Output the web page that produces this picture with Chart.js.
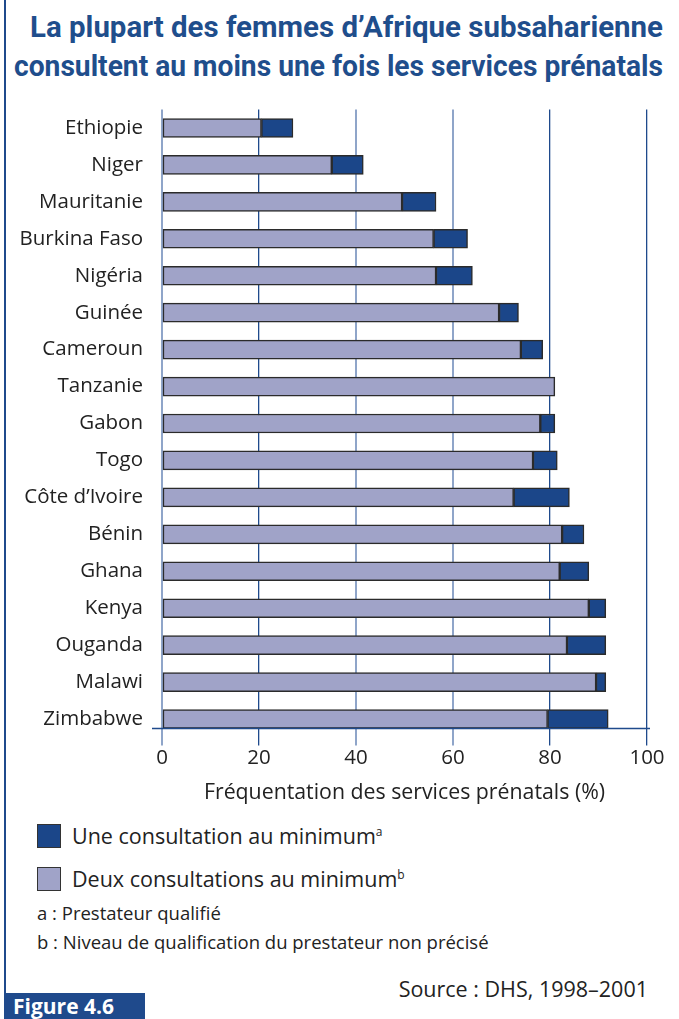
<!DOCTYPE html>
<html>
<head>
<meta charset="utf-8">
<script src="https://cdn.jsdelivr.net/npm/chart.js@4"></script>
<style>
  body { margin: 0; width: 679px; height: 1019px; position: relative; background: #fff; font-family: "Open Sans", sans-serif; color: #222; overflow: hidden; }
  #bord { position: absolute; left: 4px; top: 0; width: 2px; height: 995px; background: #1f4a8c; }
  .titre { position: absolute; white-space: nowrap; font-family: "Roboto", sans-serif; font-weight: bold; font-size: 30px; line-height: 36px; color: #1f4e8c; transform-origin: 0 0; }
  #graph { position: absolute; left: 0; top: 0; }
  .leg { position: absolute; left: 37px; font-size: 21.5px; white-space: nowrap; }
  .leg span.carre { display: inline-block; width: 22px; height: 22px; border: 1px solid #333; vertical-align: -4px; margin-right: 11px; }
  .leg sup { font-size: 12px; }
  .note { position: absolute; left: 37px; font-size: 18.5px; white-space: nowrap; }
  #source { position: absolute; right: 31px; top: 974px; font-size: 21.5px; }
  #fig { position: absolute; left: 4px; top: 993px; width: 141px; height: 26px; background: #1f4a8c; color: #fff; font-weight: bold; font-size: 21px; line-height: 26px; padding-left: 9px; box-sizing: border-box; }
</style>
</head>
<body>
<div id="bord"></div>
<div class="titre" id="t1" data-g="30" data-l="633" style="top:9px">La plupart des femmes d’Afrique subsaharienne</div>
<div class="titre" id="t2" data-g="14" data-l="649" style="top:48px">consultent au moins une fois les services prénatals</div>
<canvas id="graph" width="679" height="810"></canvas>
<div class="leg" style="top:821px"><span class="carre" style="background:#1b4689"></span>Une consultation au minimum<sup>a</sup></div>
<div class="leg" style="top:864px"><span class="carre" style="background:#a0a3c8"></span>Deux consultations au minimum<sup>b</sup></div>
<div class="note" style="top:900px">a : Prestateur qualifié</div>
<div class="note" style="top:929px">b : Niveau de qualification du prestateur non précisé</div>
<div id="source">Source : DHS, 1998–2001</div>
<div id="fig">Figure 4.6</div>
<script>
// pays et valeurs (%)
const pays = ['Ethiopie', 'Niger', 'Mauritanie', 'Burkina Faso', 'Nigéria', 'Guinée', 'Cameroun', 'Tanzanie',
  'Gabon', 'Togo', 'Côte d’Ivoire', 'Bénin', 'Ghana', 'Kenya', 'Ouganda', 'Malawi', 'Zimbabwe'];
const deuxConsultations = [20.5, 35, 49.5, 56, 56.5, 69.5, 74, 81, 78, 76.5, 72.5, 82.5, 82, 88, 83.5, 89.5, 79.5];
const uneConsultation = [27, 41.5, 56.5, 63, 64, 73.5, 78.5, 81, 81, 81.5, 84, 87, 88, 91.5, 91.5, 91.5, 92];
const graduations = [0, 20, 40, 60, 80, 100];

// titre en police étroite : on compresse chaque ligne à la largeur voulue
document.querySelectorAll('.titre').forEach(el => {
  const w = el.getBoundingClientRect().width;
  el.style.left = el.dataset.g + 'px';
  el.style.transform = 'scaleX(' + (el.dataset.l / w) + ')';
});

// partie foncée = écart entre les deux séries
const ecart = uneConsultation.map((v, i) => Math.round((v - deuxConsultations[i]) * 10) / 10);

const epaisseur = 19;

// ligne de l'axe horizontal, sous la dernière barre
const ligneAxe = {
  id: 'ligneAxe',
  afterDatasetsDraw(chart) {
    const ctx = chart.ctx;
    const y = chart.scales.y.getPixelForValue(pays.length - 1) + epaisseur / 2;
    ctx.save();
    ctx.strokeStyle = '#1f4a8c';
    ctx.lineWidth = 1.5;
    ctx.beginPath();
    ctx.moveTo(152, y);
    ctx.lineTo(chart.chartArea.right + 3, y);
    ctx.stroke();
    ctx.restore();
  }
};

new Chart(document.getElementById('graph').getContext('2d'), {
  type: 'bar',
  data: {
    labels: pays,
    datasets: [{
      label: 'Deux consultations au minimum',
      data: deuxConsultations,
      backgroundColor: '#a0a3c8',
      borderColor: '#2b2b2b',
      borderWidth: 1.5,
      borderSkipped: false,
      barThickness: epaisseur
    }, {
      label: 'Une consultation au minimum',
      data: ecart,
      backgroundColor: '#1b4689',
      borderColor: '#2b2b2b',
      borderWidth: 1.5,
      borderSkipped: false,
      barThickness: epaisseur
    }]
  },
  options: {
    indexAxis: 'y',
    responsive: false,
    animation: false,
    layout: { padding: { top: 109.5, right: 32, left: 0, bottom: 0 } },
    plugins: { legend: { display: false }, tooltip: { enabled: false } },
    scales: {
      x: {
        stacked: true,
        min: 0,
        max: 100,
        afterBuildTicks: (scale) => { scale.ticks = graduations.map(v => ({ value: v })); },
        afterFit: (scale) => { scale.height = 72.5; },
        border: { display: false },
        grid: {
          color: (c) => [20, 80, 100].includes(c.tick.value) ? '#1f4a8c' : '#8fa5c9',
          lineWidth: (c) => [20, 80, 100].includes(c.tick.value) ? 1.3 : 2,
          tickLength: 8
        },
        ticks: { color: '#222', font: { family: 'Open Sans', size: 20.5 }, padding: 0 },
        title: {
          display: true,
          text: 'Fréquentation des services prénatals (%)',
          color: '#222',
          font: { family: 'Open Sans', size: 21.3 },
          padding: { top: 0, bottom: 4 }
        }
      },
      y: {
        stacked: true,
        afterFit: (scale) => { scale.width = 162; },
        border: { display: false },
        grid: { display: false },
        ticks: { color: '#222', font: { family: 'Open Sans', size: 20.5 }, padding: 11 }
      }
    }
  },
  plugins: [ligneAxe]
});
</script>
</body>
</html>
